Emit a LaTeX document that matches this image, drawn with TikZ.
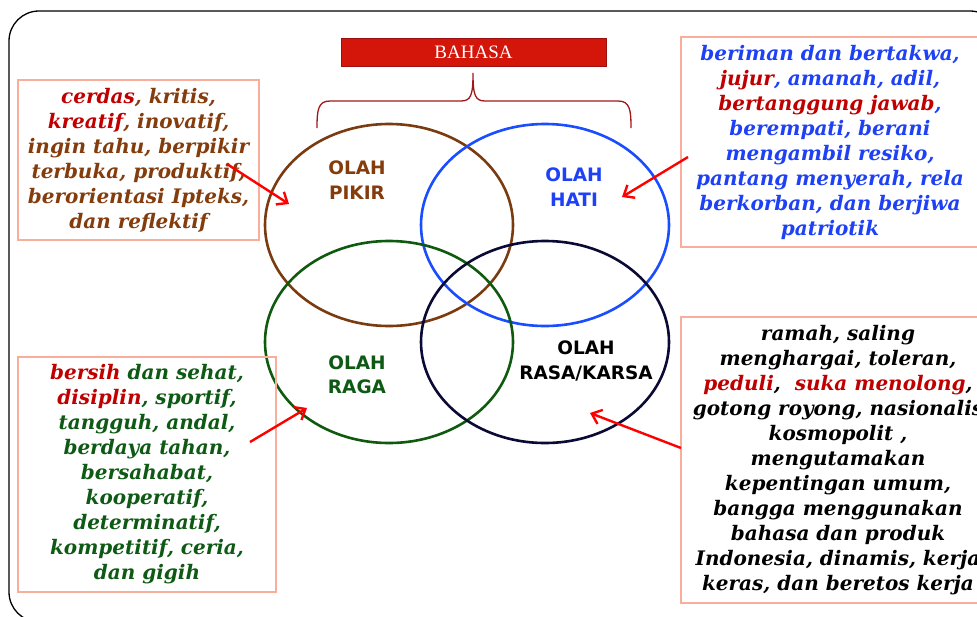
\documentclass[tikz,border=0pt]{standalone}
\usepackage{fontspec}
\usetikzlibrary{arrows.meta}
\newfontfamily\boxfont{DejaVu Serif}
\newfontfamily\labfont{DejaVu Sans}
\newfontfamily\bahfont{Liberation Serif}
\definecolor{brownT}{HTML}{843C0C}
\definecolor{redT}{HTML}{C00000}
\definecolor{blueT}{HTML}{1F41F5}
\definecolor{greenT}{HTML}{0E5A14}
\definecolor{cBrown}{HTML}{7B3B10}
\definecolor{cBlue}{HTML}{1A4DFF}
\definecolor{cGreen}{HTML}{0F5A0F}
\definecolor{cNavy}{HTML}{0A0A35}
\definecolor{boxLine}{HTML}{F8AE9B}
\definecolor{bahFill}{HTML}{D4150A}
\definecolor{bahLine}{HTML}{9B1010}
\definecolor{braceC}{HTML}{A01818}
\tikzset{
  txtbox/.style={draw=boxLine, line width=1.2pt, inner sep=0pt, align=center,
    font=\boxfont\bfseries\itshape\fontsize{20}{25}\selectfont},
  venn/.style={line width=2.6pt},
  olah/.style={align=center, font=\labfont\bfseries\fontsize{18.5}{24.5}\selectfont},
  pointer/.style={draw=red, line width=2.4pt, -{Straight Barb[length=9pt,width=15pt]}},
}
\begin{document}
\begin{tikzpicture}[x=1pt,y=-1pt]
\clip (0,0) rectangle (977,616);
\fill[white] (0,0) rectangle (977,616);
% frame
\draw[line width=1.3pt, rounded corners=30pt] (9,11) rectangle (1000,622);
% BAHASA
\node[draw=bahLine, fill=bahFill, line width=0.8pt, minimum width=265pt, minimum height=28pt, inner sep=0pt,
  text=white, font=\bahfont\fontsize{19}{22}\selectfont] (bahasa) at (473.5,52) {BAHASA};
% brace
\draw[braceC, line width=1.3pt] (317,128) .. controls (317,110) and (318,101) .. (330,101) -- (461,101)
  .. controls (471,101) and (473,95) .. (473,73)
  .. controls (473,95) and (475,101) .. (485,101) -- (618,101)
  .. controls (630,101) and (631,110) .. (631,128);
% ellipses
\draw[venn, cBrown] (389,225) ellipse [x radius=124, y radius=101];
\draw[venn, cBlue]  (545,225) ellipse [x radius=124, y radius=101];
\draw[venn, cGreen] (389,342) ellipse [x radius=124, y radius=101];
\draw[venn, cNavy]  (545,342) ellipse [x radius=124, y radius=101];
% labels
\node[olah, text=brownT] (pikir) at (357,180) {OLAH\\PIKIR};
\node[olah, text=blueT] (hati) at (574,187) {OLAH\\HATI};
\node[olah, text=greenT] (raga) at (357,375) {OLAH\\RAGA};
\node[olah, text=black] (rasa) at (586,361) {OLAH\\RASA/KARSA};
% boxes
\node[txtbox, minimum width=241pt, minimum height=160pt, text=brownT] (b1) at (138.5,160) {%
  \textcolor{redT}{cerdas}, kritis,\\
  \textcolor{redT}{kreatif}, inovatif,\\
  ingin tahu, berpikir\\
  terbuka, produktif,\\
  berorientasi Ipteks,\\
  dan reflektif};
\node[txtbox, minimum width=298pt, minimum height=210pt, text=blueT] (b2) at (830,142) {%
  beriman dan bertakwa,\\
  \textcolor{redT}{jujur}, amanah, adil,\\
  \textcolor{redT}{bertanggung jawab},\\
  berempati, berani\\
  mengambil resiko,\\
  pantang menyerah, rela\\
  berkorban, dan berjiwa\\
  patriotik};
\node[txtbox, minimum width=258pt, minimum height=235pt, text=greenT] (b3) at (147,474.5) {%
  \textcolor{redT}{bersih} dan sehat,\\
  \textcolor{redT}{disiplin}, sportif,\\
  tangguh, andal,\\
  berdaya tahan,\\
  bersahabat,\\
  kooperatif,\\
  determinatif,\\
  kompetitif, ceria,\\
  dan gigih};
\node[txtbox, minimum width=314pt, minimum height=286pt, text=black] (b4) at (838,460) {%
  ramah, saling\\
  menghargai, toleran,\\
  \textcolor{redT}{peduli}, \ \textcolor{redT}{suka menolong},\\
  gotong royong, nasionalis\\
  kosmopolit ,\\
  mengutamakan\\
  kepentingan umum,\\
  bangga menggunakan\\
  bahasa dan produk\\
  Indonesia, dinamis, kerja\\
  keras, dan beretos kerja};
% arrows
\coordinate (s1) at (227,164);
\coordinate (e1) at (289,204);
\coordinate (s2) at (688,157);
\coordinate (e2) at (622,197);
\coordinate (s3) at (250,442);
\coordinate (e3) at (307,408);
\coordinate (s4) at (681,448);
\coordinate (e4) at (590,413);
\draw[pointer] (s1) -- (e1);
\draw[pointer] (s2) -- (e2);
\draw[pointer] (s3) -- (e3);
\draw[pointer] (s4) -- (e4);
\end{tikzpicture}
\end{document}
